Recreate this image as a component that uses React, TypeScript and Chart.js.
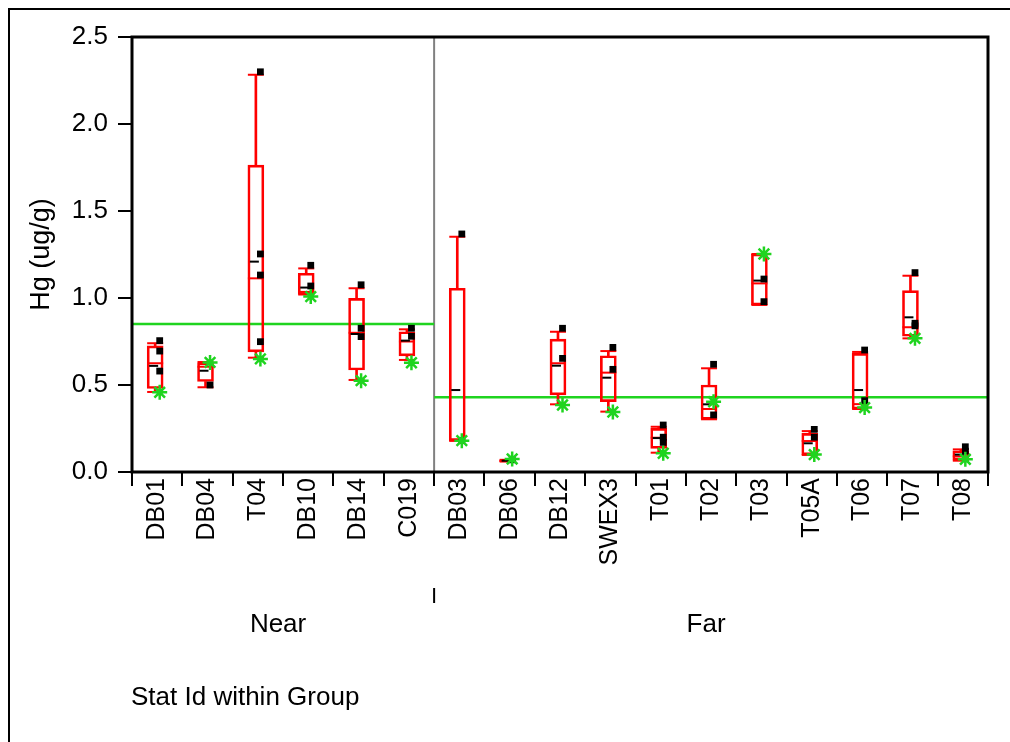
import React, { useEffect, useRef } from 'react';
import { Chart, registerables } from 'chart.js';

Chart.register(...registerables);

const categories = ['DB01', 'DB04', 'T04', 'DB10', 'DB14', 'C019', 'DB03', 'DB06', 'DB12', 'SWEX3', 'T01', 'T02', 'T03', 'T05A', 'T06', 'T07', 'T08'];
const groups = ['Near', 'Far'];
const groupSizes = [6, 11];
const groupMeans = [0.85, 0.43];
const yTicks = [0, 0.5, 1.0, 1.5, 2.0, 2.5];

const q1 = [0.48, 0.52, 0.69, 1.02, 0.586, 0.667, 0.18, 0.06, 0.443, 0.404, 0.136, 0.303, 0.96, 0.098, 0.362, 0.78, 0.068];
const median = [0.625, 0.605, 1.113, 1.035, 0.8, 0.75, 0.18, 0.065, 0.625, 0.571, 0.197, 0.362, 1.084, 0.178, 0.39, 0.832, 0.09];
const q3 = [0.725, 0.628, 1.764, 1.142, 0.998, 0.806, 1.056, 0.07, 0.764, 0.668, 0.251, 0.5, 1.253, 0.222, 0.682, 1.042, 0.122];
const whiskerLow = [0.46, 0.487, 0.657, 1.02, 0.529, 0.644, 0.18, 0.06, 0.389, 0.347, 0.111, 0.303, 0.96, 0.098, 0.362, 0.768, 0.065];
const whiskerHigh = [0.74, 0.632, 2.283, 1.17, 1.056, 0.82, 1.352, 0.07, 0.806, 0.695, 0.26, 0.596, 1.253, 0.235, 0.69, 1.128, 0.13];
const means = [0.61, 0.582, 1.209, 1.06, 0.793, 0.755, 0.471, 0.065, 0.611, 0.542, 0.195, 0.389, 1.1, 0.165, 0.471, 0.889, 0.1];
const samples = [
  [0.755, 0.695, 0.58],
  [0.5],
  [2.3, 1.253, 1.132, 0.749],
  [1.188, 1.069],
  [1.076, 0.826, 0.778],
  [0.826, 0.78],
  [1.368, 0.18],
  [0.07],
  [0.826, 0.653],
  [0.716, 0.59],
  [0.27, 0.2, 0.17],
  [0.619, 0.328],
  [1.109, 0.979],
  [0.245, 0.2],
  [0.701, 0.41],
  [1.146, 0.855, 0.84],
  [0.145, 0.12],
];
const latest = [0.458, 0.63, 0.65, 1.008, 0.525, 0.628, 0.18, 0.075, 0.385, 0.345, 0.108, 0.404, 1.253, 0.1, 0.37, 0.768, 0.073];

const FONT = '"Liberation Sans", Arial, Helvetica, sans-serif';
const RED = '#ff0000';
const GREEN = '#1fd41f';

export default function App() {
  const ref = useRef<HTMLCanvasElement>(null);

  useEffect(() => {
    if (!ref.current) return;
    const n = categories.length;
    const idx = categories.map((_, i) => i);
    const BOX_OFF = -0.04;
    const PT_OFF = 0.05;
    const MEAN_OFF = -0.07;
    const STAR_OFF = 0.05;

    const boundaries: number[] = [];
    let acc = -0.5;
    groupSizes.forEach((s) => { boundaries.push(acc); acc += s; });
    boundaries.push(acc);

    const datasets: any[] = [];
    datasets.push({
      type: 'bar', label: 'box', xAxisID: 'xl', yAxisID: 'y',
      data: idx.map((i) => ({ x: i + BOX_OFF, y: [q1[i], q3[i]] })),
      backgroundColor: 'rgba(0,0,0,0)', borderColor: RED, borderWidth: 2, borderSkipped: false,
      barThickness: 16, grouped: false, order: 5,
    });
    datasets.push({
      type: 'bar', label: 'wlo', xAxisID: 'xl', yAxisID: 'y',
      data: idx.map((i) => ({ x: i + BOX_OFF, y: [whiskerLow[i], q1[i]] })),
      backgroundColor: RED, borderWidth: 0, barThickness: 2, grouped: false, order: 6,
    });
    datasets.push({
      type: 'bar', label: 'whi', xAxisID: 'xl', yAxisID: 'y',
      data: idx.map((i) => ({ x: i + BOX_OFF, y: [q3[i], whiskerHigh[i]] })),
      backgroundColor: RED, borderWidth: 0, barThickness: 2, grouped: false, order: 6,
    });
    datasets.push({
      type: 'scatter', label: 'caps', xAxisID: 'xl', yAxisID: 'y',
      data: idx.flatMap((i) => [{ x: i + BOX_OFF, y: whiskerLow[i] }, { x: i + BOX_OFF, y: whiskerHigh[i] }]),
      pointStyle: 'line', pointRadius: 8, pointBorderColor: RED, pointBorderWidth: 2, order: 4,
    });
    datasets.push({
      type: 'scatter', label: 'median', xAxisID: 'xl', yAxisID: 'y',
      data: idx.map((i) => ({ x: i + BOX_OFF, y: median[i] })),
      pointStyle: 'line', pointRadius: 8, pointBorderColor: RED, pointBorderWidth: 2, order: 4,
    });
    datasets.push({
      type: 'scatter', label: 'mean', xAxisID: 'xl', yAxisID: 'y',
      data: idx.map((i) => ({ x: i + MEAN_OFF, y: means[i] })),
      pointStyle: 'line', pointRadius: 4.5, pointBorderColor: '#000', pointBorderWidth: 2, order: 3,
    });
    datasets.push({
      type: 'scatter', label: 'samples', xAxisID: 'xl', yAxisID: 'y',
      data: idx.flatMap((i) => samples[i].map((v) => ({ x: i + PT_OFF, y: v }))),
      pointStyle: 'rect', pointRadius: 4.8, pointBackgroundColor: '#000', pointBorderColor: '#000', pointBorderWidth: 0, order: 2,
    });
    datasets.push({
      type: 'scatter', label: 'latest', xAxisID: 'xl', yAxisID: 'y',
      data: idx.map((i) => ({ x: i + STAR_OFF, y: latest[i] })),
      pointStyle: 'star', pointRadius: 7.5, pointBorderColor: GREEN, pointBorderWidth: 2.5, order: 1,
    });
    groupMeans.forEach((m, g) => {
      datasets.push({
        type: 'line', label: 'gm' + g, xAxisID: 'xl', yAxisID: 'y',
        data: [{ x: boundaries[g], y: m }, { x: boundaries[g + 1], y: m }],
        borderColor: GREEN, borderWidth: 2.5, pointRadius: 0, fill: false, order: 7,
      });
    });
    for (let b = 1; b < boundaries.length - 1; b++) {
      datasets.push({
        type: 'line', label: 'div' + b, xAxisID: 'xl', yAxisID: 'y',
        data: [{ x: boundaries[b], y: yTicks[0] }, { x: boundaries[b], y: yTicks[yTicks.length - 1] }],
        borderColor: '#808080', borderWidth: 2, pointRadius: 0, fill: false, order: 8,
      });
    }

    const decor = {
      id: 'decor',
      afterDraw(chart: any) {
        const { ctx, chartArea: a, scales } = chart;
        const xl = scales.xl;
        ctx.save();
        ctx.strokeStyle = '#000';
        ctx.lineWidth = 3;
        ctx.strokeRect(a.left, a.top, a.right - a.left, a.bottom - a.top);
        ctx.fillStyle = '#000';
        ctx.font = `26px ${FONT}`;
        ctx.textAlign = 'center';
        ctx.textBaseline = 'middle';
        for (let g = 0; g < groups.length; g++) {
          const c = xl.getPixelForValue((boundaries[g] + boundaries[g + 1]) / 2) - 5;
          ctx.fillText(groups[g], c, 615);
        }
        ctx.lineWidth = 2;
        for (let b = 1; b < boundaries.length - 1; b++) {
          const x = xl.getPixelForValue(boundaries[b]);
          ctx.beginPath();
          ctx.moveTo(x, 578);
          ctx.lineTo(x, 593);
          ctx.stroke();
        }
        ctx.textAlign = 'left';
        ctx.fillText('Stat Id within Group', 121, 688);
        ctx.font = `27px ${FONT}`;
        ctx.translate(32, (a.top + a.bottom) / 2);
        ctx.rotate(-Math.PI / 2);
        ctx.textAlign = 'center';
        ctx.fillText('Hg (ug/g)', 0, 0);
        ctx.restore();
      },
    };

    const chart = new Chart(ref.current, {
      type: 'bar',
      data: { labels: categories, datasets },
      options: {
        animation: false,
        responsive: false,
        devicePixelRatio: 1,
        layout: { padding: { top: 27, right: 22, left: 0, bottom: 0 } },
        plugins: { legend: { display: false }, tooltip: { enabled: false } },
        scales: {
          x: {
            type: 'category', labels: categories, position: 'bottom', offset: true,
            grid: { offset: true, drawOnChartArea: false, drawTicks: true, tickLength: 14, color: '#000', lineWidth: 2 },
            border: { display: false },
            ticks: { autoSkip: false, maxRotation: 90, minRotation: 90, padding: -8, color: '#000', font: { size: 25, family: FONT } },
            afterFit: (s: any) => { s.height = 270; },
          },
          xl: { type: 'linear', display: false, min: -0.5, max: n - 0.5, offset: false },
          y: {
            type: 'linear', min: yTicks[0], max: yTicks[yTicks.length - 1],
            afterBuildTicks: (s: any) => { s.ticks = yTicks.map((v) => ({ value: v })); },
            ticks: { callback: (v: any) => Number(v).toFixed(1), padding: 10, color: '#000', font: { size: 26, family: FONT } },
            grid: { drawOnChartArea: false, tickLength: 14, color: '#000', lineWidth: 2 },
            border: { display: false },
            afterFit: (s: any) => { s.width = 122; },
          },
        },
      } as any,
      plugins: [decor],
    });
    return () => chart.destroy();
  }, []);

  return (
    <div style={{ position: 'fixed', left: 8, top: 8, right: 0, bottom: 0, borderTop: '2px solid #000', borderLeft: '2px solid #000', background: '#fff', overflow: 'hidden' }}>
      <canvas ref={ref} width={1000} height={732} style={{ display: 'block' }} />
    </div>
  );
}
